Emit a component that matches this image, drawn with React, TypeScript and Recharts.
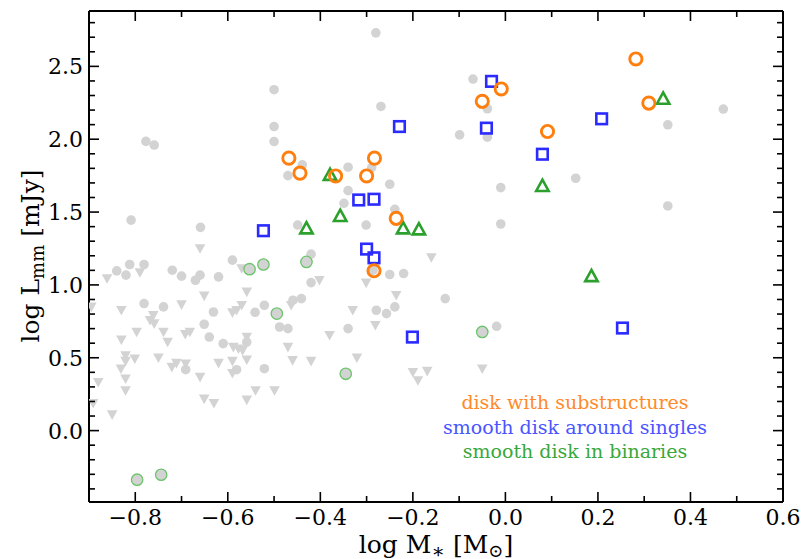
import React from 'react';
import { ScatterChart, Scatter, XAxis, YAxis } from 'recharts';

const W = 805;
const H = 559;
const FONT = '"DejaVu Serif", serif';

const xTicks = [-0.9, -0.8, -0.7, -0.6, -0.5, -0.4, -0.3, -0.2, -0.1, 0.0, 0.1, 0.2, 0.3, 0.4, 0.5, 0.6];
const xMajor = [-0.8, -0.6, -0.4, -0.2, 0.0, 0.2, 0.4, 0.6];
const yTicks = [-0.4, -0.3, -0.2, -0.1, 0.0, 0.1, 0.2, 0.3, 0.4, 0.5, 0.6, 0.7, 0.8, 0.9, 1.0, 1.1, 1.2, 1.3, 1.4, 1.5, 1.6, 1.7, 1.8, 1.9, 2.0, 2.1, 2.2, 2.3, 2.4, 2.5, 2.6, 2.7, 2.8];
const yMajor = [0.0, 0.5, 1.0, 1.5, 2.0, 2.5];

const legendLabels = ['disk with substructures', 'smooth disk around singles', 'smooth disk in binaries'];

type P = { x: number; y: number };
const pts = (a: number[][]): P[] => a.map(([x, y]) => ({ x, y }));

// gray detections (all disks)
const grayDetections = pts([
  [-0.777, 1.985], [-0.759, 1.96], [-0.28, 2.73], [-0.5, 2.34], [-0.269, 2.225], [-0.5, 2.087], [-0.5, 1.984],
  [-0.07, 2.413], [-0.039, 2.209], [-0.039, 2.014], [-0.099, 2.03], [-0.439, 1.824], [-0.47, 1.75], [-0.34, 1.808],
  [-0.289, 1.805], [-0.25, 1.691], [-0.34, 1.647], [-0.01, 1.668], [-0.349, 1.56], [-0.239, 1.519], [-0.449, 1.411],
  [-0.301, 1.411], [-0.42, 1.211], [-0.286, 1.101], [-0.25, 1.071], [-0.22, 1.078], [-0.42, 1.016], [-0.459, 0.895],
  [-0.441, 0.906], [-0.521, 0.86], [-0.541, 0.812], [-0.279, 0.826], [-0.257, 0.803], [-0.239, 0.849], [-0.13, 0.906],
  [-0.34, 0.7], [-0.488, 0.711], [-0.47, 0.7], [-0.019, 0.716], [-0.521, 0.425], [-0.01, 1.418], [0.351, 1.542],
  [0.471, 2.207], [0.351, 2.099], [0.152, 1.732], [-0.809, 1.445], [-0.659, 1.395], [-0.59, 1.17], [-0.812, 1.14],
  [-0.781, 1.14], [-0.84, 1.096], [-0.82, 1.067], [-0.72, 1.101], [-0.7, 1.06], [-0.66, 1.067], [-0.67, 1.032],
  [-0.62, 1.055], [-0.781, 0.872], [-0.739, 0.849], [-0.631, 0.814], [-0.651, 0.73], [-0.64, 0.642], [-0.61, 0.597],
  [-0.559, 0.608], [-0.691, 0.418], [-0.581, 0.418],
]);

// gray upper limits
const grayLimits = pts([
  [-0.402, 1.032], [-0.301, 1.014], [-0.463, 0.86], [-0.236, 0.929], [-0.33, 0.826], [-0.16, 1.188], [-0.281, 0.723],
  [-0.38, 0.654], [-0.47, 0.573], [-0.46, 0.482], [-0.42, 0.477], [-0.321, 0.5], [-0.499, 0.275], [-0.2, 0.401],
  [-0.189, 0.344], [-0.169, 0.408], [-0.05, 0.425], [-0.66, 1.25], [-0.79, 1.085], [-0.861, 1.044], [-0.57, 1.113],
  [-0.559, 0.952], [-0.651, 0.925], [-0.7, 0.865], [-0.83, 0.826], [-0.59, 0.81], [-0.581, 0.826], [-0.57, 0.86],
  [-0.768, 0.757], [-0.759, 0.734], [-0.761, 0.791], [-0.895, 0.849], [-0.797, 0.677], [-0.739, 0.677], [-0.692, 0.661],
  [-0.682, 0.677], [-0.83, 0.624], [-0.73, 0.608], [-0.588, 0.573], [-0.577, 0.562], [-0.568, 0.551], [-0.559, 0.642],
  [-0.559, 0.486], [-0.821, 0.516], [-0.821, 0.477], [-0.801, 0.493], [-0.75, 0.5], [-0.831, 0.425], [-0.721, 0.436],
  [-0.711, 0.463], [-0.691, 0.459], [-0.62, 0.463], [-0.59, 0.477], [-0.59, 0.394], [-0.66, 0.367], [-0.821, 0.356],
  [-0.88, 0.332], [-0.821, 0.275], [-0.54, 0.275], [-0.651, 0.218], [-0.63, 0.188], [-0.559, 0.211], [-0.891, 0.188],
  [-0.85, 0.11],
]);

const substructures = pts([
  [-0.468, 1.87], [-0.444, 1.767], [-0.367, 1.748], [-0.3, 1.748], [-0.283, 1.87], [-0.05, 2.26], [-0.009, 2.345],
  [0.091, 2.053], [0.282, 2.551], [0.31, 2.248], [-0.236, 1.457], [-0.284, 1.097],
]);

const singles = pts([
  [-0.03, 2.397], [-0.041, 2.076], [-0.229, 2.087], [-0.317, 1.583], [-0.284, 1.588], [0.208, 2.14], [0.08, 1.897],
  [0.253, 0.704], [-0.523, 1.372], [-0.3, 1.246], [-0.284, 1.186], [-0.201, 0.642],
]);

const binariesTri = pts([
  [0.341, 2.278], [0.08, 1.679], [0.186, 1.06], [-0.379, 1.755], [-0.357, 1.473], [-0.43, 1.388], [-0.221, 1.388],
  [-0.187, 1.381],
]);

const binariesCirc = pts([
  [-0.553, 1.108], [-0.523, 1.14], [-0.43, 1.158], [-0.494, 0.803], [-0.345, 0.39], [-0.05, 0.677], [-0.796, -0.337],
  [-0.744, -0.303],
]);

const GRAY = '#d3d3d3';
const ORANGE = '#ff7f0e';
const BLUE = '#2b2bff';
const GREEN = '#2ca02c';

const near = (v: number, arr: number[]) => arr.some((a) => Math.abs(a - v) < 1e-6);
const fmt = (v: number) => v.toFixed(1).replace('-', '\u2212');

const TickXBottom = (p: any) => {
  const { x, y, payload } = p;
  const major = near(payload.value, xMajor);
  return (
    <g>
      <line x1={x} x2={x} y1={y} y2={y - (major ? 10 : 6)} stroke="#000" strokeWidth={1.6} />
      {major && (
        <text x={x} y={y + 23} textAnchor="middle" fontFamily={FONT} fontSize={22} fill="#000">
          {fmt(payload.value)}
        </text>
      )}
    </g>
  );
};
const TickXTop = (p: any) => {
  const { x, y, payload } = p;
  const major = near(payload.value, xMajor);
  return <line x1={x} x2={x} y1={y} y2={y + (major ? 10 : 6)} stroke="#000" strokeWidth={1.6} />;
};
const TickYLeft = (p: any) => {
  const { x, y, payload } = p;
  const major = near(payload.value, yMajor);
  return (
    <g>
      <line x1={x} x2={x + (major ? 10 : 6)} y1={y} y2={y} stroke="#000" strokeWidth={1.6} />
      {major && (
        <text x={x - 6} y={y + 8} textAnchor="end" fontFamily={FONT} fontSize={22} fill="#000">
          {fmt(payload.value)}
        </text>
      )}
    </g>
  );
};
const TickYRight = (p: any) => {
  const { x, y, payload } = p;
  const major = near(payload.value, yMajor);
  return <line x1={x} x2={x - (major ? 10 : 6)} y1={y} y2={y} stroke="#000" strokeWidth={1.6} />;
};

const GrayDot = (p: any) => <circle cx={p.cx} cy={p.cy} r={4.8} fill={GRAY} />;
const GrayTri = (p: any) => {
  const { cx, cy } = p;
  return <path d={`M${cx - 5.3},${cy - 4.3} L${cx + 5.3},${cy - 4.3} L${cx},${cy + 5.3} Z`} fill={GRAY} />;
};
const OrangeRing = (p: any) => <circle cx={p.cx} cy={p.cy} r={6.1} fill="none" stroke={ORANGE} strokeWidth={2.9} />;
const BlueSquare = (p: any) => (
  <rect x={p.cx - 5.3} y={p.cy - 5.3} width={10.6} height={10.6} fill="none" stroke={BLUE} strokeWidth={2.6} />
);
const GreenTri = (p: any) => {
  const { cx, cy } = p;
  return (
    <path
      d={`M${cx},${cy - 6.3} L${cx + 6.2},${cy + 5} L${cx - 6.2},${cy + 5} Z`}
      fill="none"
      stroke={GREEN}
      strokeWidth={2.6}
      strokeLinejoin="miter"
    />
  );
};
const GreenRing = (p: any) => (
  <circle cx={p.cx} cy={p.cy} r={5.7} fill={GRAY} stroke="#6cc46c" strokeWidth={1.3} />
);

export default function App() {
  const axisLine = { stroke: '#000', strokeWidth: 2 };
  return (
    <div style={{ position: 'absolute', left: 0, top: 0, width: W, height: H, background: '#fff' }}>
      <ScatterChart width={W} height={H} margin={{ top: 10, right: 21, bottom: 27, left: 49 }}>
        <XAxis
          type="number"
          dataKey="x"
          domain={[-0.9, 0.6]}
          ticks={xTicks}
          interval={0}
          allowDataOverflow
          height={30}
          tickSize={0}
          tickMargin={0}
          tickLine={false}
          axisLine={axisLine}
          tick={<TickXBottom />}
        />
        <XAxis
          xAxisId="top"
          orientation="top"
          type="number"
          dataKey="x"
          domain={[-0.9, 0.6]}
          ticks={xTicks}
          interval={0}
          allowDataOverflow
          height={1}
          tickSize={0}
          tickMargin={0}
          tickLine={false}
          axisLine={axisLine}
          tick={<TickXTop />}
        />
        <YAxis
          type="number"
          dataKey="y"
          domain={[-0.49, 2.88]}
          ticks={yTicks}
          interval={0}
          allowDataOverflow
          width={40}
          tickSize={0}
          tickMargin={0}
          tickLine={false}
          axisLine={axisLine}
          tick={<TickYLeft />}
        />
        <YAxis
          yAxisId="right"
          orientation="right"
          type="number"
          dataKey="y"
          domain={[-0.49, 2.88]}
          ticks={yTicks}
          interval={0}
          allowDataOverflow
          width={1}
          tickSize={0}
          tickMargin={0}
          tickLine={false}
          axisLine={axisLine}
          tick={<TickYRight />}
        />
        <Scatter data={grayLimits} shape={GrayTri} isAnimationActive={false} />
        <Scatter data={grayDetections} shape={GrayDot} isAnimationActive={false} />
        <Scatter data={binariesCirc} shape={GreenRing} isAnimationActive={false} />
        <Scatter data={binariesTri} shape={GreenTri} isAnimationActive={false} />
        <Scatter data={singles} shape={BlueSquare} isAnimationActive={false} />
        <Scatter data={substructures} shape={OrangeRing} isAnimationActive={false} />
      </ScatterChart>
      <svg width={W} height={H} style={{ position: 'absolute', left: 0, top: 0, pointerEvents: 'none' }}>
        <text x={436} y={553} textAnchor="middle" fontFamily={FONT} fontSize={25} fill="#000">
          log M
          <tspan fontSize={20} dy={5}>{'\u2217'}</tspan>
          <tspan dy={-5}> [M</tspan>
          <tspan fontSize={18} dy={4}>{'\u2299'}</tspan>
          <tspan dy={-4}>]</tspan>
        </text>
        <text
          transform="translate(39,256) rotate(-90)"
          x={0}
          y={0}
          textAnchor="middle"
          fontFamily={FONT}
          fontSize={25}
          fill="#000"
        >
          log L
          <tspan fontSize={18} dy={5}>mm</tspan>
          <tspan dy={-5}> [mJy]</tspan>
        </text>
        <text x={575} y={409} textAnchor="middle" fontFamily={FONT} fontSize={19} fill="#ff8a2a">
          {legendLabels[0]}
        </text>
        <text x={575} y={434} textAnchor="middle" fontFamily={FONT} fontSize={19} fill="#4a55ff">
          {legendLabels[1]}
        </text>
        <text x={575} y={458} textAnchor="middle" fontFamily={FONT} fontSize={19} fill="#3aa83a">
          {legendLabels[2]}
        </text>
      </svg>
    </div>
  );
}
